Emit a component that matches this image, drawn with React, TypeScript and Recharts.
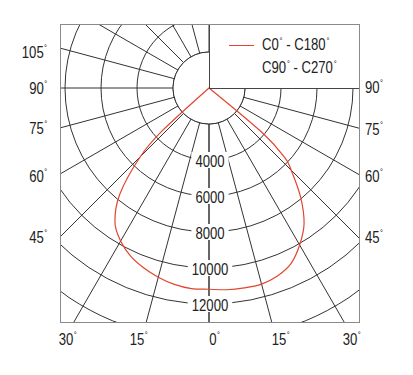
import React from "react";
import { RadarChart, Radar, PolarGrid, PolarAngleAxis, PolarRadiusAxis } from "recharts";

// gamma angles (deg from nadir) and luminous intensity in cd
const GAMMA = [0, 5, 10, 15, 20, 25, 30, 35, 40, 45, 47.5, 50, 52.5, 55, 60, 70, 80, 90];
const C0 = [11180, 11250, 11280, 11280, 11120, 10770, 10070, 9210, 7920, 6460, 5690, 3830, 0, 0, 0, 0, 0, 0];
const C180 = [11200, 11190, 11080, 10880, 10630, 10310, 9820, 9110, 7720, 5400, 3550, 0, 0, 0, 0, 0, 0, 0];

const RADIUS_LABELS = [4000, 6000, 8000, 10000, 12000];
const LEFT_LABELS = ["105", "90", "75", "60", "45"];
const RIGHT_LABELS = ["90", "75", "60", "45"];
const BOTTOM_LABELS = ["30", "15", "0", "15", "30"];
const SERIES = ["C0 - C180", "C90 - C270"];
const SERIES_COLORS = ["#e2452f", "transparent"];

// layout
const W = 413;
const H = 375;
const FRAME = { left: 60, top: 24, width: 300, height: 299 };
const CX = 149;
const CY = 64;
const OUTER = 288;
const FONT = '"Liberation Sans", Arial, sans-serif';
const SQUEEZE = 0.82;
const LEFT_POS = [52.7, 89.3, 129, 176.7, 238];
const RIGHT_POS = [88.3, 130, 176.7, 238.3];
const BOTTOM_POS = [65.5, 137, 213, 279, 350];

const data = [
  ...GAMMA.map((g, i) => ({ angle: g, cd: C0[i] })),
  ...GAMMA.map((g, i) => ({ angle: 360 - g, cd: C180[i] }))
    .filter((d) => d.angle < 360 && d.angle >= 270)
    .sort((a, b) => a.angle - b.angle),
];

// closed Catmull-Rom through the radar points, sharp at the pole
const SmoothRadar = (props: any) => {
  const raw = props.points || [];
  const p: any[] = [];
  raw.forEach((q: any) => {
    const last = p[p.length - 1];
    if (!last || Math.hypot(q.x - last.x, q.y - last.y) > 0.01) p.push(q);
  });
  if (p.length > 1 && Math.hypot(p[0].x - p[p.length - 1].x, p[0].y - p[p.length - 1].y) < 0.01) p.pop();
  const n = p.length;
  if (!n) return null;
  const sharp = (q: any) => q.radius !== undefined && q.radius < 0.5;
  let d = `M${p[0].x},${p[0].y}`;
  for (let i = 0; i < n; i++) {
    const p0 = p[(i - 1 + n) % n];
    const p1 = p[i];
    const p2 = p[(i + 1) % n];
    const p3 = p[(i + 2) % n];
    const k1 = sharp(p1) ? 0 : 1 / 6;
    const k2 = sharp(p2) ? 0 : 1 / 6;
    const c1x = p1.x + (p2.x - p0.x) * k1;
    const c1y = p1.y + (p2.y - p0.y) * k1;
    const c2x = p2.x - (p3.x - p1.x) * k2;
    const c2y = p2.y - (p3.y - p1.y) * k2;
    d += ` C${c1x},${c1y} ${c2x},${c2y} ${p2.x},${p2.y}`;
  }
  return <path d={d} fill="none" stroke={props.stroke} strokeWidth={props.strokeWidth} />;
};

const RadiusTick = (props: any) => {
  const { x, y, payload } = props;
  if (!RADIUS_LABELS.includes(payload.value)) return <g />;
  const text = String(payload.value);
  const w = text.length * 7.3 + 8;
  return (
    <g>
      <rect x={x - w / 2 + 1} y={y - 8} width={w} height={16} fill="#fff" />
      <text
        transform={`translate(${x + 1},${y + 1}) scale(${SQUEEZE},1)`}
        dy="0.36em"
        textAnchor="middle"
        fontSize={16}
        fill="#222"
        fontFamily={FONT}
      >
        {text}
      </text>
    </g>
  );
};

const CenterDisk = () => <circle cx={CX} cy={CY} r={OUTER / 8} fill="#fff" stroke="#333" />;

const Deg = () => (
  <span style={{ fontSize: 9, position: "relative", top: -6, marginLeft: 1 }}>°</span>
);

const DegLabel = ({ text, x, y, anchor }: { text: string; x: number; y: number; anchor: string }) => {
  const style: any = {
    position: "absolute",
    top: y - 9,
    lineHeight: "18px",
    fontSize: 16,
    fontFamily: FONT,
    color: "#222",
    whiteSpace: "nowrap",
  };
  let origin = "center";
  if (anchor === "end") {
    style.right = W - x;
    origin = "right";
  } else if (anchor === "start") {
    style.left = x;
    origin = "left";
  } else {
    style.left = x;
    style.transform = "translateX(-50%)";
  }
  return (
    <div style={style}>
      <span style={{ position: "relative", display: "inline-block", transform: `scaleX(${SQUEEZE})`, transformOrigin: origin }}>
        {text}
        <span style={{ position: "absolute", left: "100%", top: -5, marginLeft: 0.5, fontSize: 9 }}>°</span>
      </span>
    </div>
  );
};

const LegendText = ({ text }: { text: string }) => {
  const parts = text.split(" - ");
  return (
    <span style={{ display: "inline-block", transform: `scaleX(${SQUEEZE})`, transformOrigin: "left" }}>
      {parts[0]}
      <Deg /> - {parts[1]}
      <Deg />
    </span>
  );
};

export default function App() {
  return (
    <div style={{ position: "absolute", left: 0, top: 0, width: W, height: H, background: "#fff" }}>
      <div style={{ position: "absolute", ...FRAME, overflow: "hidden" }}>
        <RadarChart
          width={FRAME.width}
          height={FRAME.height}
          data={data}
          cx={CX}
          cy={CY}
          innerRadius={0}
          outerRadius={OUTER}
          startAngle={-90}
          endAngle={270}
          margin={{ top: 0, right: 0, bottom: 0, left: 0 }}
        >
          <PolarGrid gridType="circle" stroke="#333" strokeWidth={1} />
          <PolarAngleAxis
            dataKey="angle"
            type="number"
            domain={[0, 360]}
            tickCount={25}
            tick={false}
            tickLine={false}
            axisLine={false}
          />
          <CenterDisk />
          <PolarRadiusAxis
            type="number"
            angle={-90}
            domain={[0, 16000]}
            tickCount={9}
            axisLine={false}
            tick={RadiusTick}
          />
          <Radar
            name={SERIES[0]}
            dataKey="cd"
            stroke={SERIES_COLORS[0]}
            strokeWidth={1.2}
            fill="none"
            fillOpacity={0}
            dot={false}
            shape={SmoothRadar}
            isAnimationActive={false}
          />
        </RadarChart>
      </div>

      {/* legend box over the upper right quadrant */}
      <div
        style={{
          position: "absolute",
          left: 209,
          top: 24,
          width: 151,
          height: 65,
          boxSizing: "border-box",
          background: "#fff",
          borderLeft: "1px solid #444",
          borderBottom: "1px solid #444",
          fontFamily: FONT,
          fontSize: 16,
          color: "#222",
        }}
      >
        {SERIES.map((s, i) => (
          <div key={s} style={{ position: "absolute", left: 0, top: 12 + i * 23, height: 18, width: 150 }}>
            <div style={{ position: "absolute", left: 19, top: 9, width: 25, height: 1, background: SERIES_COLORS[i] }} />
            <div style={{ position: "absolute", left: 52, top: 0, lineHeight: "18px", whiteSpace: "nowrap" }}>
              <LegendText text={s} />
            </div>
          </div>
        ))}
      </div>

      <div
        style={{
          position: "absolute",
          ...FRAME,
          boxSizing: "border-box",
          border: "1px solid #8a8a8a",
          pointerEvents: "none",
        }}
      />

      {LEFT_LABELS.map((t, i) => (
        <DegLabel key={"l" + i} text={t} x={43.5} y={LEFT_POS[i]} anchor="end" />
      ))}
      {RIGHT_LABELS.map((t, i) => (
        <DegLabel key={"r" + i} text={t} x={365} y={RIGHT_POS[i]} anchor="start" />
      ))}
      {BOTTOM_LABELS.map((t, i) => (
        <DegLabel key={"b" + i} text={t} x={BOTTOM_POS[i]} y={340} anchor="middle" />
      ))}
    </div>
  );
}
